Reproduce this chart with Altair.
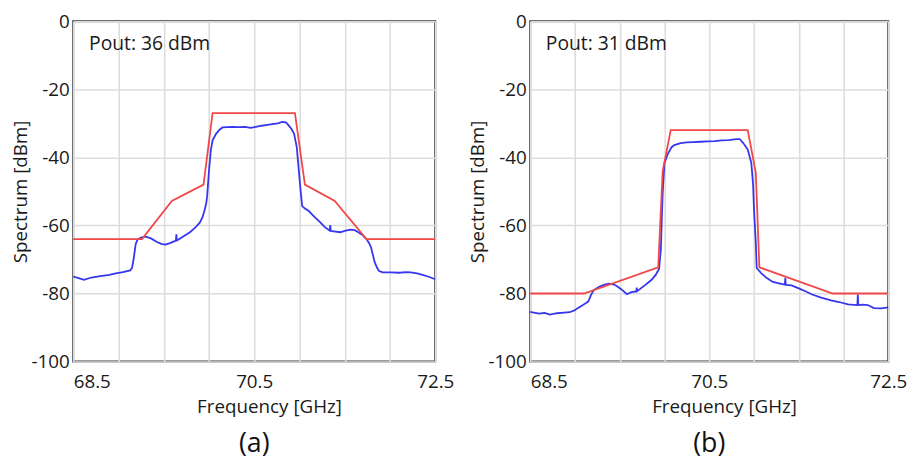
import altair as alt
import pandas as pd

# ---------------- data ----------------
a_blue_f = [68.50, 68.55, 68.62, 68.70, 68.80, 68.90, 68.97, 69.05, 69.13, 69.15, 69.17, 69.19, 69.21,
            69.25, 69.30, 69.36, 69.42, 69.48, 69.52, 69.57, 69.62, 69.635, 69.64, 69.645, 69.66, 69.72,
            69.79, 69.85, 69.90, 69.93, 69.95, 69.97, 69.98, 70.00, 70.02, 70.04, 70.08, 70.12, 70.15,
            70.20, 70.26, 70.32, 70.40, 70.46, 70.52, 70.58, 70.63, 70.70, 70.76, 70.81, 70.85, 70.88,
            70.91, 70.94, 70.97, 70.99, 71.01, 71.03, 71.06, 71.10, 71.16, 71.23, 71.28, 71.33, 71.335,
            71.34, 71.345, 71.36, 71.45, 71.50, 71.56, 71.61, 71.65, 71.70, 71.74, 71.77, 71.79, 71.81,
            71.83, 71.86, 71.88, 71.92, 72.01, 72.10, 72.18, 72.23, 72.30, 72.34, 72.42, 72.50]
a_blue_v = [-75.0, -75.4, -76.0, -75.3, -74.9, -74.5, -74.1, -73.7, -73.2, -72.5, -69.5, -65.5, -64.2,
            -63.6, -63.3, -63.8, -64.8, -65.5, -65.6, -65.2, -64.6, -64.4, -62.6, -64.4, -64.2, -63.2,
            -62.0, -60.6, -59.1, -57.5, -55.7, -53.5, -51.4, -44.0, -38.0, -35.0, -33.0, -31.8, -31.2,
            -31.1, -31.0, -31.1, -31.0, -31.3, -31.0, -30.7, -30.5, -30.2, -30.0, -29.6, -29.7, -30.6,
            -31.6, -33.0, -37.0, -43.0, -49.0, -54.3, -55.0, -55.7, -57.3, -59.1, -60.5, -61.4, -61.5,
            -59.9, -61.5, -61.7, -62.0, -61.6, -61.2, -61.4, -62.0, -62.9, -64.0, -65.2, -66.4, -68.5,
            -70.7, -72.6, -73.4, -73.8, -73.8, -73.9, -73.7, -73.8, -74.1, -74.4, -75.0, -75.8]
a_red_f = [68.5, 69.26, 69.59, 69.94, 70.04, 70.95, 71.06, 71.39, 71.74, 72.5]
a_red_v = [-64.0, -64.0, -52.8, -48.0, -27.0, -27.0, -48.0, -52.8, -64.0, -64.0]

b_blue_f = [68.50, 68.54, 68.60, 68.66, 68.72, 68.80, 68.88, 68.94, 69.00, 69.03, 69.08, 69.12, 69.15,
            69.18, 69.21, 69.27, 69.33, 69.38, 69.45, 69.52, 69.58, 69.63, 69.685, 69.69, 69.695, 69.71,
            69.78, 69.85, 69.90, 69.94, 69.96, 69.97, 69.98, 70.00, 70.04, 70.08, 70.11, 70.18, 70.25,
            70.32, 70.40, 70.49, 70.56, 70.64, 70.72, 70.80, 70.84, 70.88, 70.93, 70.97, 70.99, 71.00,
            71.02, 71.03, 71.08, 71.14, 71.21, 71.28, 71.345, 71.35, 71.355, 71.42, 71.50, 71.58, 71.65,
            71.75, 71.86, 71.95, 72.05, 72.155, 72.16, 72.165, 72.22, 72.27, 72.34, 72.42, 72.50]
b_blue_v = [-85.4, -85.6, -85.9, -85.7, -86.2, -85.8, -85.6, -85.5, -84.9, -84.3, -83.5, -82.9, -82.3,
            -80.4, -79.0, -78.0, -77.4, -77.1, -77.5, -78.8, -80.2, -79.6, -79.4, -78.3, -79.3, -79.0,
            -77.6, -76.1, -74.6, -72.7, -66.9, -58.0, -50.5, -41.7, -38.8, -37.0, -36.4, -35.8, -35.6,
            -35.5, -35.4, -35.3, -35.2, -35.0, -34.9, -34.6, -34.6, -35.8, -37.7, -41.6, -48.0, -55.2,
            -65.0, -72.5, -74.0, -75.4, -76.6, -77.0, -77.4, -75.4, -77.5, -77.6, -78.5, -79.4, -80.3,
            -81.2, -82.0, -82.5, -83.2, -83.4, -80.3, -83.4, -83.3, -83.4, -84.3, -84.4, -84.1]
b_red_f = [68.5, 69.10, 69.93, 69.98, 70.07, 70.93, 71.02, 71.06, 71.88, 72.5]
b_red_v = [-80.0, -80.0, -72.3, -44.0, -32.0, -32.0, -44.5, -72.3, -80.0, -80.0]

x_grid = [68.5, 69.0, 69.5, 70.0, 70.5, 71.0, 71.5, 72.0, 72.5]
x_labels = [68.5, 70.5, 72.5]
y_grid = [0, -10, -20, -30, -40, -50, -60, -70, -80, -90, -100]

FONT = "Open Sans"
BLUE = "#3636f0"
RED = "#f04848"
H = 344


def panel(bf, bv, rf, rv, note, tag, w):
    blue = pd.DataFrame({"f": bf, "v": bv, "i": range(len(bf))})
    red = pd.DataFrame({"f": rf, "v": rv, "i": range(len(rf))})
    note_df = pd.DataFrame({"f": [68.675], "v": [-8.4], "t": [note]})

    xs = alt.Scale(domain=[68.5, 72.5], nice=False, zero=False)
    ys = alt.Scale(domain=[-100, 0], nice=False, zero=False)
    xax = alt.Axis(values=x_grid, title="Frequency [GHz]", ticks=False, domain=False,
                   labelExpr="indexof([68.5, 70.5, 72.5], datum.value) >= 0 ? format(datum.value, '.1f') : ''",
                   labelAlign={"condition": {"test": "datum.value < 69", "value": "left"}, "value": "center"},
                   labelPadding=11, titlePadding=6, titleX=w / 2 + 15)
    yax = alt.Axis(values=y_grid, title="Spectrum [dBm]", ticks=False, domain=False,
                   labelExpr="datum.value % 20 == 0 ? '' + datum.value : ''",
                   labelPadding=4, titlePadding=0)

    b = alt.Chart(blue).mark_line(color=BLUE, strokeWidth=1.8).encode(
        x=alt.X("f:Q", scale=xs, axis=xax),
        y=alt.Y("v:Q", scale=ys, axis=yax),
        order="i:Q")
    r = alt.Chart(red).mark_line(color=RED, strokeWidth=1.8).encode(
        x=alt.X("f:Q", scale=xs), y=alt.Y("v:Q", scale=ys), order="i:Q")
    t = alt.Chart(note_df).mark_text(align="left", baseline="alphabetic", font=FONT,
                                     fontSize=19.5, color="#1a1a1a").encode(
        x=alt.X("f:Q", scale=xs), y=alt.Y("v:Q", scale=ys), text="t:N")
    return alt.layer(b, r, t).properties(
        width=w, height=H,
        title=alt.TitleParams(text=tag, orient="bottom", anchor="middle", frame="group",
                              fontSize=27, font=FONT, fontWeight="normal", color="#111", offset=15))


left = panel(a_blue_f, a_blue_v, a_red_f, a_red_v, "Pout: 36 dBm", "(a)", 366)
right = panel(b_blue_f, b_blue_v, b_red_f, b_red_v, "Pout: 31 dBm", "(b)", 362)

chart = alt.hconcat(left, right, spacing=13).properties(
    padding={"left": 11, "top": 9, "right": 5, "bottom": 0}, background="white"
).configure_axis(
    labelFont=FONT, titleFont=FONT, labelFontSize=19, titleFontSize=19,
    titleFontWeight="normal", labelColor="#1a1a1a", titleColor="#1a1a1a",
    gridColor="#dddddd", gridWidth=1.6, gridOpacity=1
).configure_view(stroke="#3a3a3a", strokeWidth=2)

chart.save("out.html", embed_options={"renderer": "svg", "actions": False})
